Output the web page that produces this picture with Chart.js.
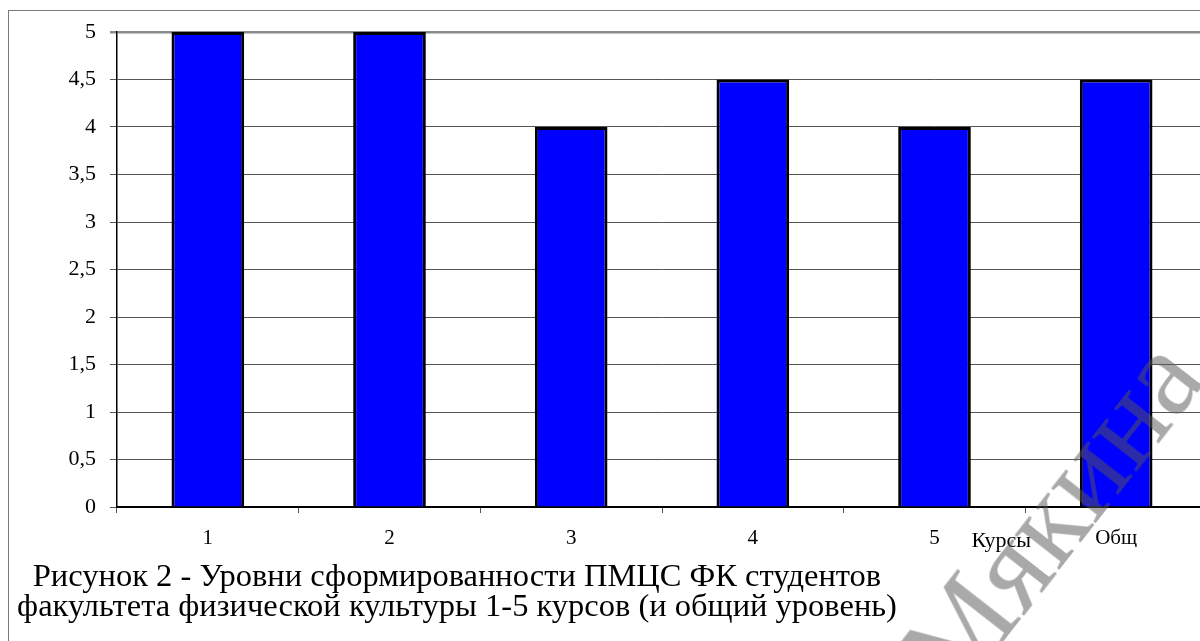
<!DOCTYPE html>
<html lang="ru">
<head>
<meta charset="utf-8">
<title>Уровни сформированности ПМЦС ФК</title>
<script src="https://cdn.jsdelivr.net/npm/chart.js@4/dist/chart.umd.min.js"></script>
<style>
  html, body { margin: 0; padding: 0; background: #fff; overflow: hidden; width: 1200px; height: 641px; }
  #frame { position: absolute; left: 8px; top: 10px; width: 1300px; height: 700px; border: 1px solid #7a7a7a; box-sizing: border-box; }
  #wrap { position: absolute; left: 0; top: 0; width: 1212px; height: 641px; }
  .caption { position: absolute; left: 457px; transform: translateX(-50%); white-space: nowrap;
             font-family: "Liberation Serif", "Times New Roman", serif; font-size: 32.5px; color: #000; line-height: 1; }
  #watermark { position: absolute; left: 1050px; top: 515px; transform: translate(-50%, -50%) rotate(-52deg);
               font-family: "Liberation Serif", "Times New Roman", serif; font-size: 122px; color: rgba(86, 86, 86, 0.51);
               white-space: nowrap; line-height: 1; pointer-events: none; }
</style>
</head>
<body>
<div id="frame"></div>
<div id="wrap"><canvas id="chart" width="1212" height="641"></canvas></div>
<div class="caption" style="top:559px">Рисунок 2 - Уровни сформированности ПМЦС ФК студентов</div>
<div class="caption" style="top:589px">факультета физической культуры 1-5 курсов (и общий уровень)</div>
<div id="watermark">Мякина</div>
<script>
// Курсы 1–5 и общий уровень
const categories = ['1', '2', '3', '4', '5', 'Общ'];
// Уровень сформированности по каждому курсу
const levels = [5, 5, 4, 4.5, 4, 4.5];
// Шкала уровней
const yMin = 0;
const yMax = 5;
const yStep = 0.5;
const xAxisTitle = 'Курсы';

const serif = '"Liberation Serif", "Times New Roman", serif';

// Подпись оси категорий, стоящая между «5» и «Общ»
const axisTitlePlugin = {
  id: 'axisTitle',
  afterDraw(chart) {
    const ctx = chart.ctx;
    const x = chart.scales.x;
    const cx = (x.getPixelForValue(4) + x.getPixelForValue(5)) / 2 - 24;
    ctx.save();
    ctx.font = '22px ' + serif;
    ctx.fillStyle = '#000';
    ctx.textAlign = 'center';
    ctx.textBaseline = 'middle';
    ctx.fillText(xAxisTitle, cx, 541);
    ctx.restore();
  }
};

new Chart(document.getElementById('chart'), {
  type: 'bar',
  data: {
    labels: categories,
    datasets: [{
      data: levels,
      backgroundColor: '#0000ff',
      borderColor: '#000',
      borderWidth: 3,
      barPercentage: 0.4,
      categoryPercentage: 1.0
    }]
  },
  options: {
    responsive: false,
    animation: false,
    layout: { padding: { left: 0, right: 5, top: 32, bottom: 94 } },
    plugins: { legend: { display: false }, tooltip: { enabled: false } },
    scales: {
      x: {
        offset: true,
        afterFit(scale) { scale.height = 40; },
        border: { color: '#000', width: 2 },
        grid: { drawOnChartArea: false, drawTicks: true, tickLength: 6, color: '#555', offset: true },
        ticks: { color: '#000', font: { family: serif, size: 21 }, padding: 13 }
      },
      y: {
        min: yMin,
        max: yMax,
        afterFit(scale) { scale.width = 117; },
        border: { color: '#000', width: 1.5 },
        grid: {
          color: ctx => (ctx.tick && ctx.tick.value === yMax ? '#8a8a8a' : '#555'),
          lineWidth: ctx => (ctx.tick && ctx.tick.value === yMax ? 2.5 : 1),
          tickLength: 7
        },
        ticks: {
          stepSize: yStep,
          color: '#000',
          padding: 14,
          font: { family: serif, size: 22 },
          callback: v => String(v).replace('.', ',')
        }
      }
    }
  },
  plugins: [axisTitlePlugin]
});
</script>
</body>
</html>
